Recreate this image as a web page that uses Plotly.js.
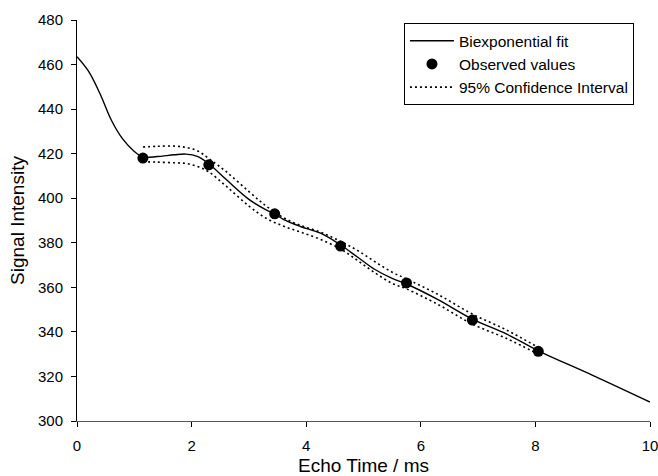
<!DOCTYPE html>
<html>
<head>
<meta charset="utf-8">
<script src="https://cdn.plot.ly/plotly-3.0.1.min.js"></script>
<style>html,body{margin:0;padding:0;background:#fff;}#chart{width:658px;height:476px;}</style>
</head>
<body>
<div id="chart"></div>
<script>
// Observed echo data
var obsTime = [1.15, 2.3, 3.45, 4.6, 5.75, 6.9, 8.05];
var obsSignal = [418, 415, 393, 378.5, 362, 345.3, 331.3];

// Biexponential fit curve
var fitTime = [0, 0.2, 0.4, 0.6, 0.8, 1.0, 1.15, 1.4, 1.7, 1.9, 2.1, 2.3, 2.6, 3.0, 3.3, 3.45, 3.6, 3.9, 4.25, 4.6, 4.9, 5.2, 5.5, 5.75, 6.3, 6.9, 7.5, 8.05, 9.0, 10];
var fitSignal = [463.5, 457, 447, 435, 426.5, 421, 418.5, 418.7, 419.5, 419.8, 418.8, 415.5, 408.5, 399.5, 394.8, 393, 390.5, 387.3, 384.3, 379, 373.5, 368, 364, 361.5, 354.5, 345.7, 339, 331.5, 320.5, 308.5];

// 95% confidence interval
var ciTime = [1.15, 1.4, 1.7, 1.9, 2.1, 2.3, 2.6, 3.0, 3.3, 3.6, 3.9, 4.25, 4.6, 4.9, 5.2, 5.5, 5.75, 6.3, 6.9, 7.5, 8.05];
var ciUpper = [423, 423.3, 423.4, 422.8, 421.3, 417.8, 412, 403, 396.5, 391.3, 387.8, 384.8, 380.6, 376.5, 371.5, 366.8, 363.8, 356.8, 348, 340.8, 333];
var ciLower = [416.4, 416.2, 415.9, 415.6, 414.3, 411.8, 405.5, 396.5, 391, 387.5, 384.8, 381.5, 377.2, 372, 366.5, 361.8, 359.3, 352.3, 343.5, 337, 330];

var xTicks = [0, 2, 4, 6, 8, 10];
var yTicks = [300, 320, 340, 360, 380, 400, 420, 440, 460, 480];

var traces = [
  {x: fitTime, y: fitSignal, mode: 'lines', name: 'Biexponential fit',
   line: {color: '#000', width: 1.4, shape: 'spline', smoothing: 1}},
  {x: obsTime, y: obsSignal, mode: 'markers', name: 'Observed values',
   marker: {color: '#000', size: 11}},
  {x: ciTime, y: ciUpper, mode: 'lines', name: '95% Confidence Interval', legendgroup: 'ci',
   line: {color: '#000', width: 1.6, dash: '2px,3px', shape: 'spline', smoothing: 1}},
  {x: ciTime, y: ciLower, mode: 'lines', name: '95% Confidence Interval', legendgroup: 'ci', showlegend: false,
   line: {color: '#000', width: 1.6, dash: '2px,3px', shape: 'spline', smoothing: 1}}
];

var layout = {
  width: 658, height: 476,
  margin: {l: 77, r: 8, t: 20, b: 55},
  paper_bgcolor: '#fff', plot_bgcolor: '#fff',
  font: {family: 'Liberation Sans, Arial, sans-serif', color: '#000', size: 15},
  showlegend: true,
  legend: {x: 0.5706, y: 0.992, xanchor: 'left', yanchor: 'top',
           bordercolor: '#000', borderwidth: 1, bgcolor: '#fff',
           font: {size: 15.5}, tracegroupgap: 0, itemwidth: 44},
  xaxis: {range: [0, 10], tickvals: xTicks, ticktext: xTicks.map(String),
          showgrid: false, zeroline: false, showline: true, linecolor: '#555', linewidth: 1,
          ticks: 'outside', ticklen: 5, tickcolor: '#000', ticklabelstandoff: 6,
          ticklabeloverflow: 'allow',
          tickfont: {size: 15},
          title: {text: 'Echo Time / ms', font: {size: 19}, standoff: 8}},
  yaxis: {range: [300, 480], tickvals: yTicks, ticktext: yTicks.map(String),
          showgrid: false, zeroline: false, showline: true, linecolor: '#000', linewidth: 1,
          ticks: 'outside', ticklen: 5, tickcolor: '#000', ticklabelstandoff: 5,
          tickfont: {size: 15},
          title: {text: 'Signal Intensity', font: {size: 19}, standoff: 8}}
};

Plotly.newPlot('chart', traces, layout, {displayModeBar: false, staticPlot: true});
</script>
</body>
</html>
